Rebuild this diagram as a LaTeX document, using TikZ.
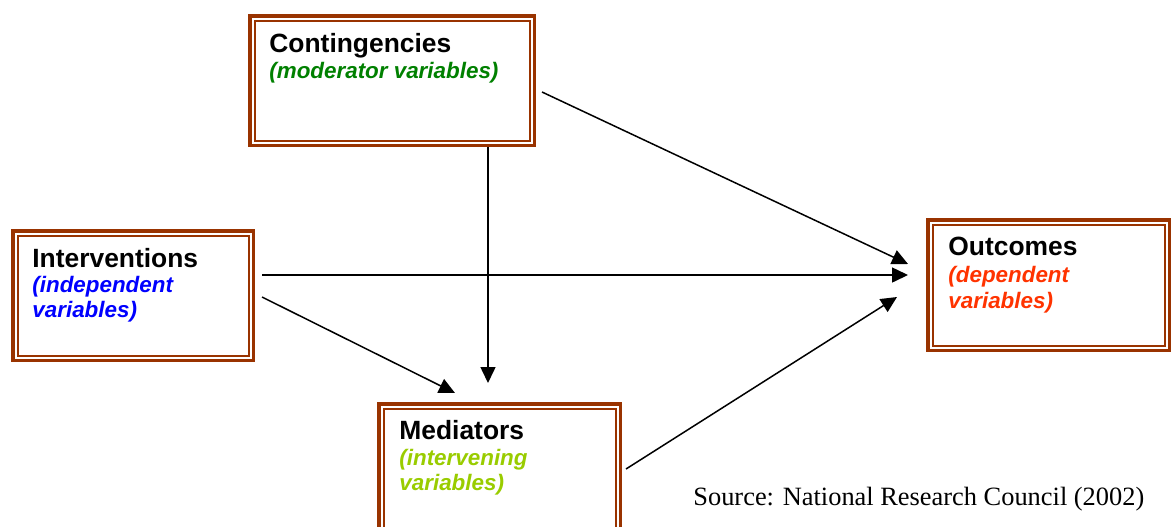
\documentclass[tikz,border=0pt]{standalone}
\usepackage{fontspec}
\setmainfont{Liberation Sans}
\newfontfamily\srcfont{Liberation Serif}
\usetikzlibrary{arrows.meta}
\definecolor{boxbrown}{RGB}{153,51,0}
\definecolor{modgreen}{RGB}{0,128,0}
\definecolor{indblue}{RGB}{0,0,255}
\definecolor{medgreen}{RGB}{153,204,0}
\definecolor{depred}{RGB}{255,51,0}
\tikzset{
  brbox/.style={draw=boxbrown, line width=1.75pt, rectangle, inner sep=0pt, outer sep=0pt, anchor=north west},
  innerline/.style={draw=boxbrown, line width=1pt},
  ttl/.style={anchor=base west, inner sep=0pt, font=\fontsize{13.2}{15}\selectfont\bfseries},
  sub/.style={anchor=base west, inner sep=0pt, font=\fontsize{11.2}{13}\selectfont\bfseries\itshape},
  arr/.style={line width=0.75pt, -{Triangle[length=8pt,width=7.5pt]}},
}
\begin{document}
\begin{tikzpicture}[x=0.5pt,y=-0.5pt]
\useasboundingbox (0,0) rectangle (1172,526);
\clip (0,0) rectangle (1172,526);
% boxes
\node[brbox, minimum width=142.25pt, minimum height=64.75pt] (C) at (249.75,15.75) {};
\node[brbox, minimum width=120.25pt, minimum height=64.75pt] (I) at (12.75,230.75) {};
\node[brbox, minimum width=120.75pt, minimum height=65.25pt] (O) at (927.75,219.75) {};
\node[brbox, minimum width=120.75pt, minimum height=75pt] (M) at (378.75,403.75) {};
\foreach \b in {C,I,O,M}{
  \draw[innerline] ([shift={(4.75,4.75)}]\b.north west) rectangle ([shift={(-4.75,-4.75)}]\b.south east);
}
% texts
\node[ttl] (Ct) at (269,52) {Contingencies};
\node[sub, text=modgreen] (Cs) at (269,78) {(moderator variables)};
\node[ttl] (It) at (32,267) {Interventions};
\node[sub, text=indblue] (Is1) at (32,292) {(independent};
\node[sub, text=indblue] (Is2) at (32,317) {variables)};
\node[ttl] (Ot) at (948,255) {Outcomes};
\node[sub, text=depred] (Os1) at (948,282) {(dependent};
\node[sub, text=depred] (Os2) at (948,308) {variables)};
\node[ttl] (Mt) at (399,439) {Mediators};
\node[sub, text=medgreen] (Ms1) at (399,465) {(intervening};
\node[sub, text=medgreen] (Ms2) at (399,490) {variables)};
\node[anchor=base west, inner sep=0pt, font=\srcfont\fontsize{13.2}{15}\selectfont] (src) at (693,505) {Source: National Research Council (2002)};
% connectors
\draw[arr] ([shift={(7.75,11.5)}]C.east) -- ([shift={(-19.75,-21)}]O.west);
\draw[arr] ([shift={(-46.25,1.75)}]C.south east) -- ([shift={(-11.5,-20.75)}]M.north);
\draw[arr] ([shift={(8.75,-20.5)}]I.east) -- ([shift={(-19.75,-10)}]O.west);
\draw[arr] ([shift={(8.75,1.5)}]I.east) -- ([shift={(-44.5,-10.75)}]M.north);
\draw[arr] ([shift={(5.75,65.25)}]M.north east) -- ([shift={(-30.75,12)}]O.west);
\end{tikzpicture}
\end{document}
